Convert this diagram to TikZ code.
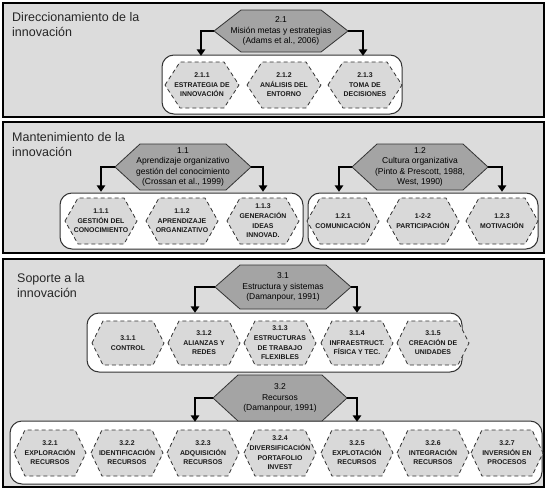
\documentclass[tikz,border=0pt]{standalone}
\usepackage{fontspec}
\setmainfont{Liberation Sans}
\usetikzlibrary{arrows.meta,calc}
\definecolor{panelgray}{HTML}{DCDCDC}
\definecolor{hexdark}{HTML}{A4A4A4}
\definecolor{hexlight}{HTML}{D9D9D9}
\definecolor{edgegray}{HTML}{333333}
% #1 style, #2 cx, #3 cy, #4 half width, #5 half height, #6 inset
\newcommand\hexpath[6]{%
  \path[#1] ({#2-#4},#3) -- ({#2-#4+#6},{#3-#5}) -- ({#2+#4-#6},{#3-#5})
    -- ({#2+#4},#3) -- ({#2+#4-#6},{#3+#5}) -- ({#2-#4+#6},{#3+#5}) -- cycle;}
\tikzset{
  panel/.style={fill=panelgray, draw=black, line width=1.2pt},
  ibox/.style={fill=white, draw=edgegray, line width=1pt, rounded corners=12pt},
  bighexfill/.style={fill=hexdark, draw=edgegray, line width=0.8pt},
  smallhexfill/.style={fill=hexlight, draw=edgegray, line width=0.8pt, dash pattern=on 4pt off 3pt},
  bigtext/.style={align=center, inner sep=0pt, font=\fontsize{8.5}{10.4}\selectfont},
  smalltext/.style={align=center, inner sep=0pt, text=black!90, font=\bfseries\fontsize{6.9}{9.6}\selectfont},
  titletext/.style={anchor=north west, align=left, inner sep=0pt, text=black!85, font=\fontsize{12.5}{15}\selectfont},
  arr/.style={draw=black, line width=2.6pt, -{Triangle[width=8.5pt,length=6.5pt]}},
}
\begin{document}
\begin{tikzpicture}[x=1pt,y=-1pt]
\useasboundingbox (0,0) rectangle (547,490);

% ---------- Panel 1 ----------
\path[panel] (3,3) rectangle (544,117);
\node[titletext] (t1) at (12,12) {Direccionamiento de la\\innovación};
\path[ibox] (162,55) rectangle (402,114);
\hexpath{bighexfill}{281}{31}{67}{21}{27}
\node[bigtext, minimum width=134pt, minimum height=42pt] (h21) at (281,31) {2.1\\Misión metas y estrategias\\(Adams et al., 2006)};
\hexpath{smallhexfill}{202}{85}{37}{23}{15}
\node[smalltext, minimum width=74pt, minimum height=46pt] (s211) at (202,85) {2.1.1\\ESTRATEGIA DE\\INNOVACIÓN};
\hexpath{smallhexfill}{284}{85}{37}{23}{15}
\node[smalltext, minimum width=74pt, minimum height=46pt] (s212) at (284,85) {2.1.2\\ANÁLISIS DEL\\ENTORNO};
\hexpath{smallhexfill}{365}{85}{37}{23}{15}
\node[smalltext, minimum width=74pt, minimum height=46pt] (s213) at (365,85) {2.1.3\\TOMA DE\\DECISIONES};
\draw[arr, shorten >=6pt] (h21.west) -| ([xshift=-1pt]s211.north);
\draw[arr, shorten >=6pt] (h21.east) -| ([xshift=-2pt]s213.north);

% ---------- Panel 2 ----------
\path[panel] (3,122) rectangle (544,253);
\node[titletext] (t2) at (12,132) {Mantenimiento de la\\innovación};
\path[ibox] (60,193) rectangle (303,249);
\path[ibox] (308,193) rectangle (538,249);
\hexpath{bighexfill}{183}{167}{68}{23}{25}
\node[bigtext, minimum width=136pt, minimum height=46pt] (h11) at (183,167) {1.1\\Aprendizaje organizativo\\gestión del conocimiento\\(Crossan et al., 1999)};
\hexpath{bighexfill}{420}{167}{68}{23}{25}
\node[bigtext, minimum width=136pt, minimum height=46pt] (h12) at (420,167) {1.2\\Cultura organizativa\\(Pinto \& Prescott, 1988,\\West, 1990)};
\hexpath{smallhexfill}{101}{221}{36}{23}{13}
\node[smalltext, minimum width=72pt, minimum height=46pt] (s111) at (101,221) {1.1.1\\GESTIÓN DEL\\CONOCIMIENTO};
\hexpath{smallhexfill}{182}{221}{36}{23}{13}
\node[smalltext, minimum width=72pt, minimum height=46pt] (s112) at (182,221) {1.1.2\\APRENDIZAJE\\ORGANIZATIVO};
\hexpath{smallhexfill}{263}{221}{36}{23}{13}
\node[smalltext, minimum width=72pt, minimum height=46pt] (s113) at (263,221) {1.1.3\\GENERACIÓN\\IDEAS\\INNOVAD.};
\hexpath{smallhexfill}{343}{221}{36}{23}{13}
\node[smalltext, minimum width=72pt, minimum height=46pt] (s121) at (343,221) {1.2.1\\COMUNICACIÓN};
\hexpath{smallhexfill}{423}{221}{36}{23}{13}
\node[smalltext, minimum width=72pt, minimum height=46pt] (s122) at (423,221) {1-2-2\\PARTICIPACIÓN};
\hexpath{smallhexfill}{502}{221}{36}{23}{13}
\node[smalltext, minimum width=72pt, minimum height=46pt] (s123) at (502,221) {1.2.3\\MOTIVACIÓN};
\draw[arr, shorten >=6pt] (h11.west) -| (s111.north);
\draw[arr, shorten >=6pt] (h11.east) -| (s113.north);
\draw[arr, shorten >=6pt] (h12.west) -| ([xshift=-4pt]s121.north);
\draw[arr, shorten >=6pt] (h12.east) -| (s123.north);

% ---------- Panel 3 ----------
\path[panel] (3,259) rectangle (544,487);
\node[titletext] (t3) at (17,273) {Soporte a la\\innovación};
\path[ibox] (87,313) rectangle (462,372);
\path[ibox] (10,421) rectangle (542,484);
\hexpath{bighexfill}{283}{287}{68}{22}{25}
\node[bigtext, minimum width=136pt, minimum height=44pt] (h31) at (283,287) {3.1\\Estructura y sistemas\\(Damanpour, 1991)};
\hexpath{bighexfill}{280}{398}{67}{23}{25}
\node[bigtext, minimum width=134pt, minimum height=46pt] (h32) at (280,398) {3.2\\Recursos\\(Damanpour, 1991)};
\hexpath{smallhexfill}{128}{343}{36}{22}{11}
\node[smalltext, minimum width=72pt, minimum height=44pt] (s311) at (128,343) {3.1.1\\CONTROL};
\hexpath{smallhexfill}{204}{343}{36}{22}{11}
\node[smalltext, minimum width=72pt, minimum height=44pt] (s312) at (204,343) {3.1.2\\ALIANZAS Y\\REDES};
\hexpath{smallhexfill}{280}{343}{36}{22}{11}
\node[smalltext, minimum width=72pt, minimum height=44pt] (s313) at (280,343) {3.1.3\\ESTRUCTURAS\\DE TRABAJO\\FLEXIBLES};
\hexpath{smallhexfill}{357}{343}{36}{22}{11}
\node[smalltext, minimum width=72pt, minimum height=44pt] (s314) at (357,343) {3.1.4\\INFRAESTRUCT.\\FÍSICA Y TEC.};
\hexpath{smallhexfill}{433}{343}{36}{22}{11}
\node[smalltext, minimum width=72pt, minimum height=44pt] (s315) at (433,343) {3.1.5\\CREACIÓN DE\\UNIDADES};
\hexpath{smallhexfill}{50}{453}{36}{23}{11}
\node[smalltext, minimum width=72pt, minimum height=46pt] (s321) at (50,453) {3.2.1\\EXPLORACIÓN\\RECURSOS};
\hexpath{smallhexfill}{127}{453}{36}{23}{11}
\node[smalltext, minimum width=72pt, minimum height=46pt] (s322) at (127,453) {3.2.2\\IDENTIFICACIÓN\\RECURSOS};
\hexpath{smallhexfill}{203}{453}{36}{23}{11}
\node[smalltext, minimum width=72pt, minimum height=46pt] (s323) at (203,453) {3.2.3\\ADQUISICIÓN\\RECURSOS};
\hexpath{smallhexfill}{280}{453}{36}{23}{11}
\node[smalltext, minimum width=72pt, minimum height=46pt] (s324) at (280,453) {3.2.4\\DIVERSIFICACIÓN\\PORTAFOLIO\\INVEST};
\hexpath{smallhexfill}{357}{453}{36}{23}{11}
\node[smalltext, minimum width=72pt, minimum height=46pt] (s325) at (357,453) {3.2.5\\EXPLOTACIÓN\\RECURSOS};
\hexpath{smallhexfill}{433}{453}{36}{23}{11}
\node[smalltext, minimum width=72pt, minimum height=46pt] (s326) at (433,453) {3.2.6\\INTEGRACIÓN\\RECURSOS};
\hexpath{smallhexfill}{507}{453}{36}{23}{11}
\node[smalltext, minimum width=72pt, minimum height=46pt] (s327) at (507,453) {3.2.7\\INVERSIÓN EN\\PROCESOS};
\draw[arr, shorten >=8pt] (h31.west) -| ([xshift=-9pt]s312.north);
\draw[arr, shorten >=8pt] (h31.east) -| (s314.north);
\draw[arr, shorten >=8pt] (h32.west) -| ([xshift=-8pt]s323.north);
\draw[arr, shorten >=8pt] (h32.east) -| (s325.north);
\end{tikzpicture}
\end{document}
